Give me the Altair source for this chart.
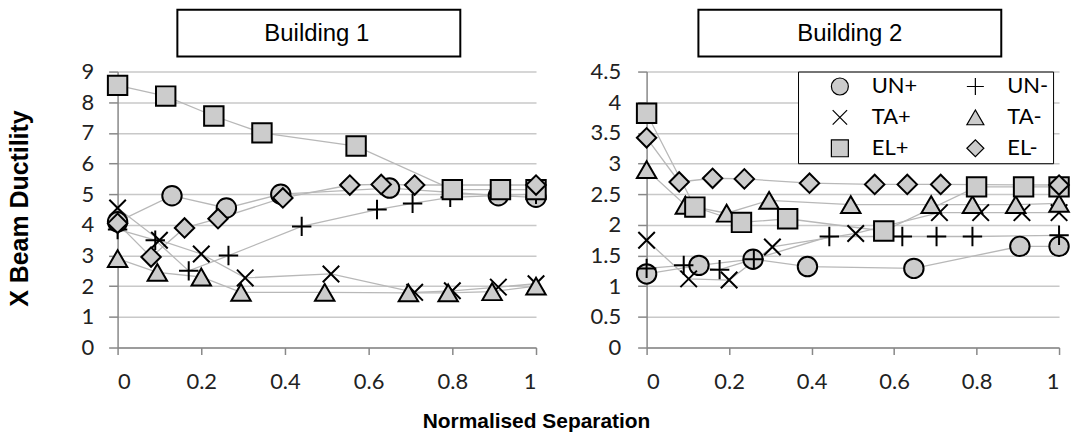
import altair as alt
import pandas as pd

series_names = ["UN+", "UN-", "TA+", "TA-", "EL+", "EL-"]
panel_titles = ["Building 1", "Building 2"]
x_title = "Normalised Separation"
y_title = "X Beam Ductility"
x_ticks = [0, 0.2, 0.4, 0.6, 0.8, 1]
b1_y_ticks = [0, 1, 2, 3, 4, 5, 6, 7, 8, 9]
b2_y_ticks = [0, 0.5, 1, 1.5, 2, 2.5, 3, 3.5, 4, 4.5]

# Building 1
b1_unp_x = [0, 0.13, 0.26, 0.39, 0.65, 0.91, 1.0]
b1_unp_y = [4.1, 4.95, 4.55, 5.0, 5.2, 4.95, 4.9]
b1_unm_x = [0, 0.09, 0.17, 0.265, 0.44, 0.62, 0.705, 0.795, 1.0]
b1_unm_y = [3.85, 3.5, 2.5, 3.0, 3.95, 4.5, 4.7, 4.9, 5.0]
b1_tap_x = [0, 0.1, 0.2, 0.305, 0.51, 0.71, 0.8, 0.91, 1.0]
b1_tap_y = [4.55, 3.5, 3.05, 2.27, 2.4, 1.8, 1.85, 1.97, 2.08]
b1_tam_x = [0, 0.095, 0.2, 0.295, 0.495, 0.695, 0.79, 0.895, 1.0]
b1_tam_y = [2.9, 2.45, 2.3, 1.8, 1.8, 1.78, 1.78, 1.82, 2.0]
b1_elp_x = [0, 0.115, 0.23, 0.345, 0.57, 0.8, 0.915, 1.0]
b1_elp_y = [8.55, 8.2, 7.55, 7.0, 6.57, 5.15, 5.15, 5.15]
b1_elm_x = [0, 0.08, 0.16, 0.24, 0.395, 0.555, 0.63, 0.71, 1.0]
b1_elm_y = [4.05, 2.95, 3.9, 4.2, 4.88, 5.3, 5.32, 5.3, 5.3]

# Building 2
b2_unp_x = [0, 0.127, 0.258, 0.39, 0.648, 0.905, 1.0]
b2_unp_y = [1.2, 1.34, 1.44, 1.32, 1.29, 1.65, 1.65]
b2_unm_x = [0, 0.09, 0.177, 0.26, 0.443, 0.62, 0.703, 0.79, 1.0]
b2_unm_y = [1.29, 1.34, 1.27, 1.44, 1.81, 1.81, 1.81, 1.81, 1.83]
b2_tap_x = [0, 0.102, 0.2, 0.305, 0.507, 0.71, 0.81, 0.91, 1.0]
b2_tap_y = [1.75, 1.12, 1.1, 1.64, 1.86, 2.2, 2.2, 2.2, 2.2]
b2_tam_x = [0, 0.094, 0.194, 0.297, 0.495, 0.69, 0.79, 0.895, 1.0]
b2_tam_y = [2.9, 2.32, 2.19, 2.4, 2.33, 2.33, 2.33, 2.33, 2.35]
b2_elp_x = [0, 0.117, 0.23, 0.342, 0.575, 0.8, 0.914, 1.0]
b2_elp_y = [3.82, 2.29, 2.04, 2.1, 1.9, 2.62, 2.62, 2.62]
b2_elm_x = [0, 0.079, 0.16, 0.237, 0.395, 0.553, 0.632, 0.713, 1.0]
b2_elm_y = [3.42, 2.7, 2.76, 2.75, 2.68, 2.66, 2.66, 2.66, 2.65]


def build(series_xy):
    rows = []
    for name, (xs, ys) in zip(series_names, series_xy):
        for xv, yv in zip(xs, ys):
            rows.append({"series": name, "x": xv, "y": yv})
    return pd.DataFrame(rows)


df1 = build([(b1_unp_x, b1_unp_y), (b1_unm_x, b1_unm_y), (b1_tap_x, b1_tap_y),
             (b1_tam_x, b1_tam_y), (b1_elp_x, b1_elp_y), (b1_elm_x, b1_elm_y)])
df2 = build([(b2_unp_x, b2_unp_y), (b2_unm_x, b2_unm_y), (b2_tap_x, b2_tap_y),
             (b2_tam_x, b2_tam_y), (b2_elp_x, b2_elp_y), (b2_elm_x, b2_elm_y)])

shape_range = [
    "circle",
    "M-1,0L1,0M0,-1L0,1",
    "M-0.85,-0.85L0.85,0.85M-0.85,0.85L0.85,-0.85",
    "triangle-up",
    "square",
    "diamond",
]

W1, W2, H = 420, 414, 277


def panel(df, title, yticks, ymax, width, first, legend, box_x, text_x, ylabpad):
    xaxis = alt.Axis(
        values=x_ticks, format="~g", grid=False, tickSize=7, labelPadding=17,
        labelOverlap=False,
        title=x_title if first else None,
        **({"titleX": 420, "titleY": 74, "titleBaseline": "middle",
            "titleFontSize": 21} if first else {}),
    )
    yaxis = alt.Axis(
        values=yticks, format="~g", grid=True, tickSize=9, labelPadding=ylabpad,
        labelOverlap=False,
        title=y_title if first else None,
        **({"titleX": -110, "titleY": 137, "titleBaseline": "top",
            "titleFontSize": 25} if first else {}),
    )
    base = alt.Chart(df).encode(
        x=alt.X("x:Q", scale=alt.Scale(domain=[0, 1], nice=False), axis=xaxis),
        y=alt.Y("y:Q", scale=alt.Scale(domain=[0, ymax], nice=False), axis=yaxis),
    )
    lines = base.mark_line(color="#b8b8b8", strokeWidth=1.3).encode(
        detail="series:N",
        order="x:Q",
    )
    pts = base.mark_point(
        filled=False, fill="#cccccc", fillOpacity=1, strokeWidth=2,
        size=380, opacity=1
    ).encode(
        shape=alt.Shape("series:N", scale=alt.Scale(domain=series_names, range=shape_range),
                        legend=legend),
        stroke=alt.Stroke("series:N", scale=alt.Scale(domain=series_names, range=["black"] * 6),
                          legend=legend),
    )
    tdf = pd.DataFrame({"t": [title]})
    box = alt.Chart(tdf).mark_rect(fill="white", stroke="black", strokeWidth=2).encode(
        x=alt.value(box_x[0]), x2=alt.value(box_x[1]), y=alt.value(-62), y2=alt.value(-15)
    )
    txt = alt.Chart(tdf).mark_text(font="Liberation Sans", fontSize=24, baseline="middle",
                                   align="center", color="black").encode(
        text="t:N", x=alt.value(text_x), y=alt.value(-38)
    )
    return alt.layer(lines, pts, box, txt).properties(width=width, height=H)


legend2 = alt.Legend(
    orient="none", legendX=152, legendY=0, columns=2, direction="horizontal", title=None,
    strokeColor="black", fillColor="white", padding=4,
    symbolOffset=27, labelOffset=21, columnPadding=20, rowPadding=9,
    labelFont="Lato", labelFontSize=22, labelColor="black",
    labelExpr="datum.label + '\u00a0'",
    symbolSize=290, symbolFillColor="#cccccc", symbolStrokeColor="#555555",
    symbolStrokeWidth=1.2,
)

p1 = panel(df1, panel_titles[0], b1_y_ticks, 9, W1, True, None, (60, 344), 200, 15)
p2 = panel(df2, panel_titles[1], b2_y_ticks, 4.5, W2, False, legend2, (52, 356), 204, 17)

chart = alt.hconcat(p1, p2, spacing=111, bounds="flush").resolve_scale(
    shape="independent", stroke="independent"
).resolve_legend(shape="independent", stroke="independent").properties(
    padding=0, background="white"
).configure_view(stroke=None).configure_axis(
    gridColor="#c8c8c8", gridWidth=1.5,
    domainColor="#888888", domainWidth=1.5,
    tickColor="#888888", tickWidth=1.5,
    labelFont="Lato", labelFontSize=22, labelColor="#222222",
    titleFont="Liberation Sans", titleFontWeight="bold", titleColor="black",
)

chart.save("out.html", embed_options={"renderer": "svg", "actions": False})
